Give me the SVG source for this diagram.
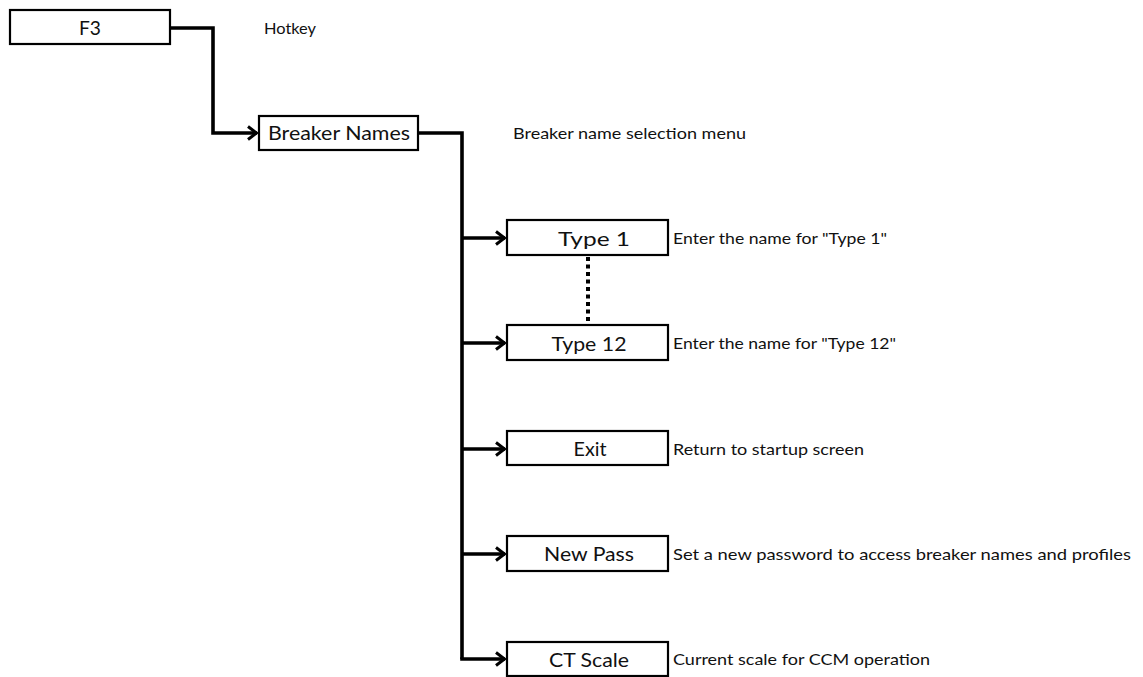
<svg xmlns="http://www.w3.org/2000/svg" width="1143" height="677" viewBox="0 0 1143 677">
  <defs>
    <style>
      .box { fill: #ffffff; stroke: #000000; stroke-width: 2.2; }
      .lbl { font-family: Lato, "Open Sans", "Liberation Sans", sans-serif; font-size: 20px; fill: #111111; text-anchor: middle; }
      .note { font-family: Lato, "Open Sans", "Liberation Sans", sans-serif; font-size: 15px; fill: #111111; }
      .wire { fill: none; stroke: #000000; stroke-width: 3.6; stroke-linejoin: miter; }
      .dots { fill: none; stroke: #000000; stroke-width: 4; stroke-dasharray: 4 3.5; }
    </style>
    <marker id="arrow" viewBox="0 0 12 16" refX="11" refY="8" markerWidth="12" markerHeight="16" markerUnits="userSpaceOnUse" orient="auto">
      <path d="M2,1.5 L10.5,8 L2,14.5" fill="none" stroke="#000000" stroke-width="3"/>
    </marker>
  </defs>
  <rect width="1143" height="677" fill="#ffffff"/>

  <!-- connectors -->
  <g id="connectors">
    <path class="wire" d="M171,28 H213 V133 H257" marker-end="url(#arrow)"/>
    <path class="wire" d="M419,133 H462 V659"/>
    <path class="wire" d="M462,238 H505" marker-end="url(#arrow)"/>
    <path class="wire" d="M462,343 H505" marker-end="url(#arrow)"/>
    <path class="wire" d="M462,449 H505" marker-end="url(#arrow)"/>
    <path class="wire" d="M462,554 H505" marker-end="url(#arrow)"/>
    <path class="wire" d="M460.2,659 H505" marker-end="url(#arrow)"/>
    <path class="dots" d="M588,257 V324"/>
  </g>

  <g id="node-f3">
    <rect class="box" x="10" y="10" width="160" height="34"/>
    <text class="lbl" x="90" y="35" textLength="22" lengthAdjust="spacingAndGlyphs">F3</text>
    <text class="note" x="264" y="34" textLength="52" lengthAdjust="spacingAndGlyphs">Hotkey</text>
  </g>

  <g id="node-breaker-names">
    <rect class="box" x="259" y="116" width="159" height="34"/>
    <text class="lbl" x="339" y="140" textLength="142" lengthAdjust="spacingAndGlyphs">Breaker Names</text>
    <text class="note" x="513" y="139" textLength="233" lengthAdjust="spacingAndGlyphs">Breaker name selection menu</text>
  </g>

  <g id="node-type-1">
    <rect class="box" x="507" y="220" width="161" height="35"/>
    <text class="lbl" x="594" y="246" textLength="72" lengthAdjust="spacingAndGlyphs">Type 1</text>
    <text class="note" x="673" y="244" textLength="214" lengthAdjust="spacingAndGlyphs">Enter the name for "Type 1"</text>
  </g>

  <g id="node-type-12">
    <rect class="box" x="507" y="325" width="161" height="35"/>
    <text class="lbl" x="589" y="351" textLength="75" lengthAdjust="spacingAndGlyphs">Type 12</text>
    <text class="note" x="673" y="349" textLength="223" lengthAdjust="spacingAndGlyphs">Enter the name for "Type 12"</text>
  </g>

  <g id="node-exit">
    <rect class="box" x="507" y="431" width="161" height="34"/>
    <text class="lbl" x="590" y="456" textLength="33" lengthAdjust="spacingAndGlyphs">Exit</text>
    <text class="note" x="673" y="455" textLength="191" lengthAdjust="spacingAndGlyphs">Return to startup screen</text>
  </g>

  <g id="node-new-pass">
    <rect class="box" x="507" y="536" width="161" height="35"/>
    <text class="lbl" x="589" y="561" textLength="90" lengthAdjust="spacingAndGlyphs">New Pass</text>
    <text class="note" x="673" y="560" textLength="458" lengthAdjust="spacingAndGlyphs">Set a new password to access breaker names and profiles</text>
  </g>

  <g id="node-ct-scale">
    <rect class="box" x="507" y="642" width="161" height="34"/>
    <text class="lbl" x="589" y="667" textLength="80" lengthAdjust="spacingAndGlyphs">CT Scale</text>
    <text class="note" x="673" y="665" textLength="257" lengthAdjust="spacingAndGlyphs">Current scale for CCM operation</text>
  </g>
</svg>
